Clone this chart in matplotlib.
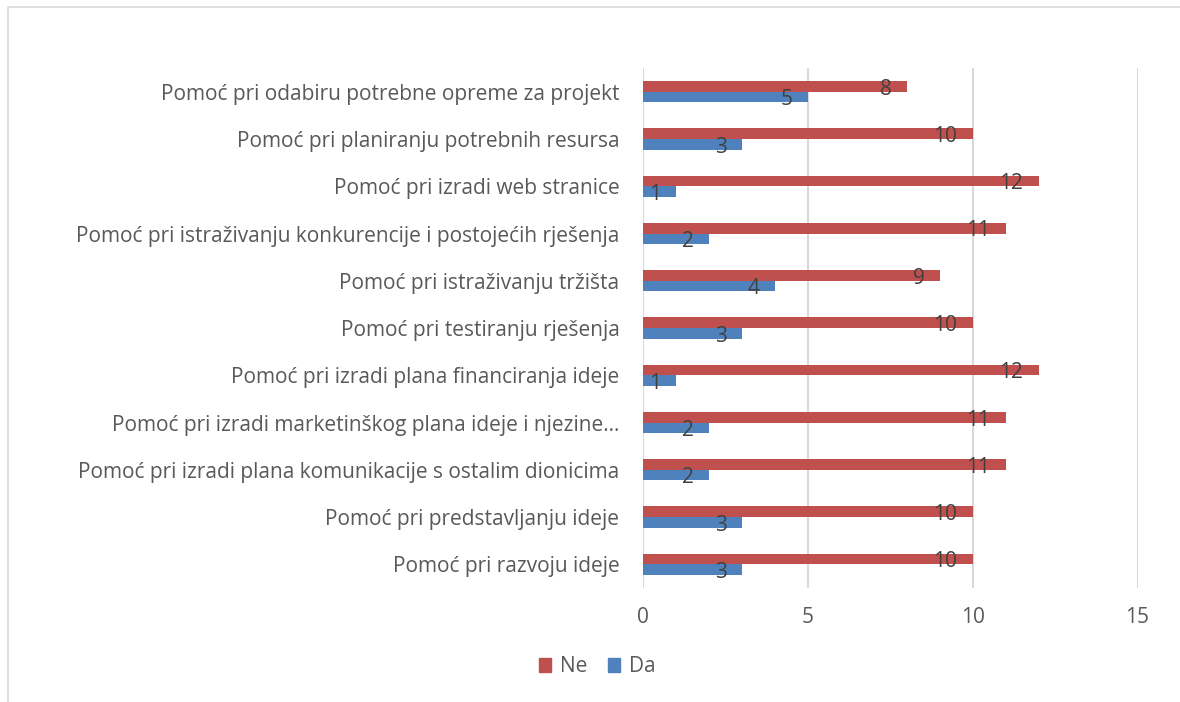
import matplotlib
matplotlib.use('Agg')
import matplotlib.pyplot as plt
from matplotlib.patches import Rectangle, Patch
import numpy as np

# Podaci (od dna prema vrhu)
kategorije = [
    "Pomoć pri razvoju ideje",
    "Pomoć pri predstavljanju ideje",
    "Pomoć pri izradi plana komunikacije s ostalim dionicima",
    "Pomoć pri izradi marketinškog plana ideje i njezine…",
    "Pomoć pri izradi plana financiranja ideje",
    "Pomoć pri testiranju rješenja",
    "Pomoć pri istraživanju tržišta",
    "Pomoć pri istraživanju konkurencije i postojećih rješenja",
    "Pomoć pri izradi web stranice",
    "Pomoć pri planiranju potrebnih resursa",
    "Pomoć pri odabiru potrebne opreme za projekt",
]
ne = [10, 10, 11, 11, 12, 10, 9, 11, 12, 10, 8]
da = [3, 3, 2, 2, 1, 3, 4, 2, 1, 3, 5]

plt.rcParams['font.family'] = ['Open Sans', 'DejaVu Sans']
siva = '#595959'
crvena = '#C0504D'
plava = '#4F81BD'

fig = plt.figure(figsize=(11.8, 7.02), dpi=100)
ax = fig.add_axes([0.545, 0.1624, 0.964 - 0.545, 0.903 - 0.1624])

# okvir grafikona (samo gore i lijevo vidljivo)
fig.patches.append(Rectangle((8 / 1180, -0.05), 1.2, 1 - 7 / 702 + 0.05,
                             transform=fig.transFigure, fill=False,
                             ec='#D9D9D9', lw=1.2))

y = np.arange(len(kategorije))
h = 0.225
ax.barh(y + h / 2, ne, height=h, color=crvena, label='Ne', zorder=3)
ax.barh(y - h / 2, da, height=h, color=plava, label='Da', zorder=3)

# oznake vrijednosti
for i in range(len(kategorije)):
    ax.annotate(str(ne[i]), xy=(ne[i], y[i] + h / 2), xytext=(-11, -2),
                textcoords='offset points', ha='right', va='center',
                fontsize=15, color='#404040', zorder=4)
    ax.annotate(str(da[i]), xy=(da[i], y[i] - h / 2), xytext=(-11, -2),
                textcoords='offset points', ha='right', va='center',
                fontsize=15, color='#404040', zorder=4)

ax.set_xlim(0, 15)
ax.set_ylim(-0.5, len(kategorije) - 0.5)
ax.set_xticks([0, 5, 10, 15])
ax.set_yticks(y)
ax.set_yticklabels(kategorije)
ax.tick_params(axis='both', length=0, colors=siva, labelsize=15)
ax.tick_params(axis='x', pad=14)
ax.tick_params(axis='y', pad=17)
ax.grid(axis='x', color='#D9D9D9', lw=1.5, zorder=0)
for s in ax.spines.values():
    s.set_visible(False)

ax.legend(handles=[Patch(color=crvena, label='Ne'), Patch(color=plava, label='Da')],
          loc='center', bbox_to_anchor=(0.506, 0.05), bbox_transform=fig.transFigure,
          ncol=2, frameon=False, fontsize=15, labelcolor=siva,
          handlelength=0.6, handleheight=0.6, handletextpad=0.4, columnspacing=1.0)

fig.savefig('out.png', dpi=100)
